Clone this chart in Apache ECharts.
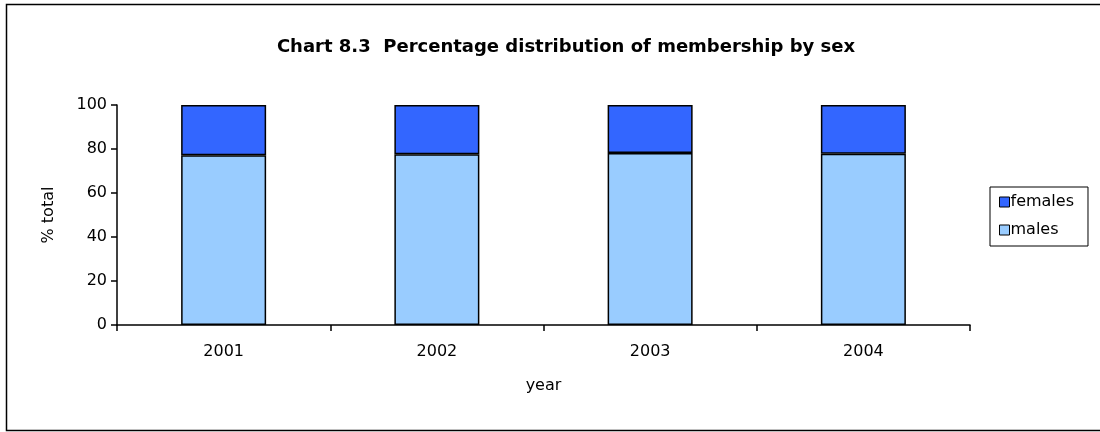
<!DOCTYPE html>
<html><head><meta charset="utf-8">
<script src="https://cdn.jsdelivr.net/npm/echarts@6/dist/echarts.min.js"></script>
<style>html,body{margin:0;padding:0;background:#fff}#c{width:1100px;height:432px}</style>
</head><body><div id="c"></div>
<script>
const years = ['2001','2002','2003','2004'];
const males = [77.2, 77.6, 78.2, 77.8];
const females = [22.8, 22.4, 21.8, 22.2];
const yTicks = [0, 20, 40, 60, 80, 100];
const FONT = '"DejaVu Sans", sans-serif';
const chart = echarts.init(document.getElementById('c'), null, {renderer:'canvas'});
chart.setOption({
  animation: false,
  backgroundColor: '#fff',
  title: {
    text: 'Chart 8.3  Percentage distribution of membership by sex',
    left: 561, top: 33, textAlign: 'center',
    textStyle: {fontFamily: FONT, fontSize: 18, fontWeight: 'bold', color: '#000'}
  },
  graphic: [{
    type: 'rect', shape: {x: 6.5, y: 4.5, width: 1100, height: 426},
    style: {fill: null, stroke: '#000', lineWidth: 1.5}, silent: true, z: -1
  }],
  legend: {
    orient: 'vertical', left: 990, top: 187, width: 100,
    padding: [7, 14, 8, 9], itemGap: 12,
    borderColor: '#000', borderWidth: 1,
    itemWidth: 10, itemHeight: 10, icon: 'rect',
    data: ['females', 'males'],
    textStyle: {fontFamily: FONT, fontSize: 16, color: '#000', padding: [0, 0, 0, -4]},
    itemStyle: {borderColor: '#000', borderWidth: 1}
  },
  grid: {left: 117, right: 130, top: 105, bottom: 107},
  xAxis: {
    type: 'category', data: years,
    name: 'year', nameLocation: 'middle', nameGap: 53,
    nameTextStyle: {fontFamily: FONT, fontSize: 16, color: '#000'},
    axisLine: {lineStyle: {color: '#000', width: 1.5}},
    axisTick: {show: true, length: 6, alignWithLabel: false, lineStyle: {color: '#000', width: 1.5}},
    axisLabel: {fontFamily: FONT, fontSize: 16, color: '#000', margin: 19}
  },
  yAxis: {
    type: 'value', min: 0, max: 100, interval: 20,
    name: '% total', nameLocation: 'middle', nameGap: 60, nameRotate: 90,
    nameTextStyle: {fontFamily: FONT, fontSize: 16, color: '#000'},
    splitLine: {show: false},
    axisLine: {show: true, lineStyle: {color: '#000', width: 1.5}},
    axisTick: {show: true, length: 6, lineStyle: {color: '#000', width: 1.5}},
    axisLabel: {fontFamily: FONT, fontSize: 16, color: '#000', margin: 10,
      formatter: v => yTicks.includes(v) ? String(v) : ''}
  },
  series: [
    {name: 'males', type: 'bar', stack: 's', data: males, barWidth: 85,
     itemStyle: {color: '#99CCFF', borderColor: '#000', borderWidth: 1.5}},
    {name: 'females', type: 'bar', stack: 's', data: females, barWidth: 85,
     itemStyle: {color: '#3366FF', borderColor: '#000', borderWidth: 1.5}}
  ]
});
</script></body></html>
